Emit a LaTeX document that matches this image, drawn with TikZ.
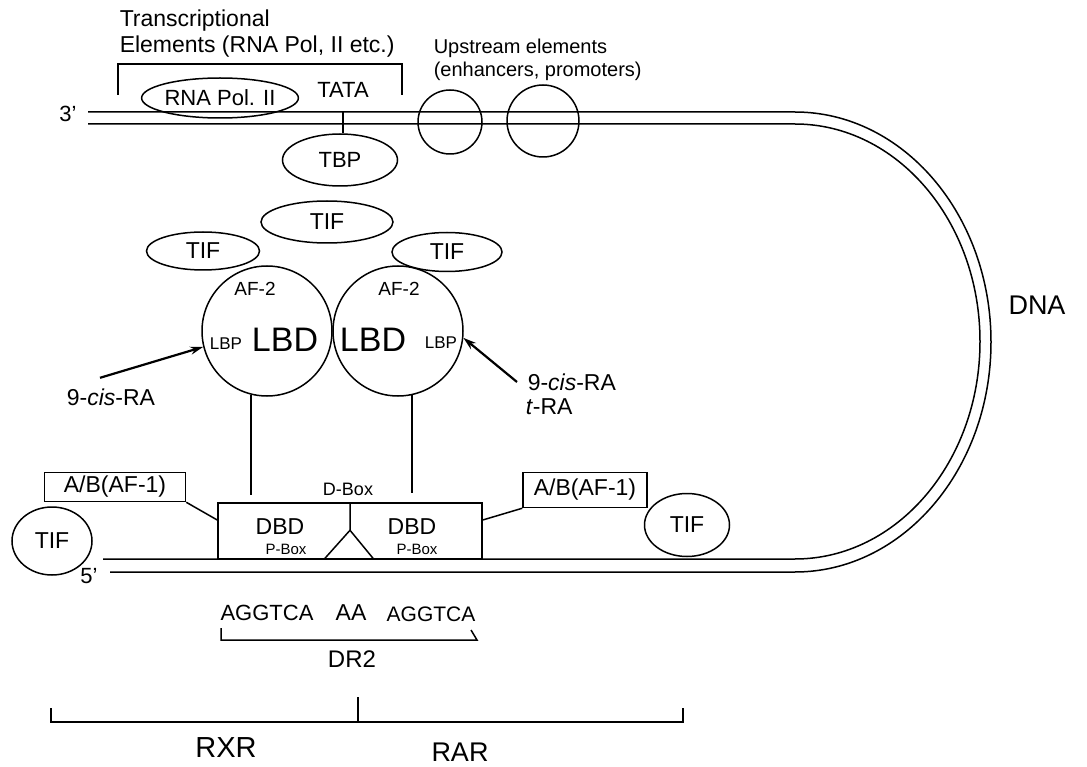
\documentclass[tikz,border=0pt]{standalone}
\usepackage{fontspec}
\setmainfont{Liberation Sans}
\usetikzlibrary{shapes.geometric,arrows.meta}
\begin{document}
\begin{tikzpicture}[>={Stealth[length=13pt,width=8pt]},x=1pt,y=-1pt,line width=1.5pt,
  txt/.style={font=\fontsize{#1}{#1}\selectfont,inner sep=0pt},
  txt/.default=22,
  oval/.style={draw,ellipse,inner sep=0pt},
  ball/.style={draw,circle,inner sep=0pt},
  boxed/.style={draw,rectangle,inner sep=0pt}]
\useasboundingbox (0,0) rectangle (1087,767);
% promoter region
\node[txt=23,anchor=west] (trtop) at (119,21) {Transcriptional};
\node[txt=23,anchor=west] (trbot) at (119,47) {Elements (RNA Pol, II etc.)};
\draw (118,95) -- (118,64) -- (402,64) -- (402,95);
\node[oval,txt,minimum width=150,minimum height=40] (rnapol) at (220,98) {RNA Pol. II};
\node[txt] (tata) at (343,90) {TATA};
\node[txt=20,anchor=west] (uptop) at (433,48) {Upstream elements};
\node[txt=20,anchor=west] (upbot) at (433,71) {(enhancers, promoters)};
\node[txt] (end3) at (68,114) {3'};
% DNA
\draw (88,112) -- (795,112) arc[start angle=-90,end angle=90,x radius=196,y radius=230] -- (110,572);
\draw (88,124) -- (795,124) arc[start angle=-90,end angle=90,x radius=185,y radius=217.5] -- (103,559);
\node[txt=27] (dna) at (1037,305) {DNA};
\node[ball,minimum size=64] (ueA) at (450,122) {};
\node[ball,minimum size=72] (ueB) at (543,121) {};
\node[oval,txt,minimum width=115,minimum height=52] (tbp) at (340,160) {TBP};
\coordinate (tatapin) at (343,112);
\draw (tatapin) -- (tatapin |- tbp.north);
\node[oval,txt=23,minimum width=132,minimum height=42] (tifC) at (327,222) {TIF};
\node[oval,txt=23,minimum width=113,minimum height=38] (tifA) at (203,251) {TIF};
\node[oval,txt=23,minimum width=110,minimum height=39] (tifB) at (447,252) {TIF};
% ligand binding domains
\node[ball,minimum size=130] (lbdL) at (267,331) {};
\node[ball,minimum size=130] (lbdR) at (398,331) {};
\node[txt=19] (af2L) at (255,289) {AF-2};
\node[txt=19] (af2R) at (399,289) {AF-2};
\node[txt=34] (lbdtxtL) at (285,340) {LBD};
\node[txt=34] (lbdtxtR) at (373,340) {LBD};
\node[txt=17] (lbpL) at (226,344) {LBP};
\node[txt=17] (lbpR) at (441,343) {LBP};
\node[txt=23] (ligL) at (111,397) {9-\textit{cis}-RA};
\node[txt=23,anchor=west] (ligR) at (527,382) {9-\textit{cis}-RA};
\node[txt=23,anchor=west] (ligT) at (525,407) {\textit{t}-RA};
\draw[->,line width=2.2pt] ([xshift=-11pt,yshift=10pt]ligL.north) -- (lbdL.194);
\draw[->,line width=2.2pt] ([xshift=-10pt]ligR.west) -- (lbdR.-6);
% DNA binding domains
\node[boxed,minimum width=264,minimum height=56] (dbd) at (350,531) {};
\draw (dbd.north) -- ++(0,28) coordinate (vtip) -- ++(-25,28);
\draw (vtip) -- ++(23,28);
\draw[shorten >=7pt] ([xshift=-0.3pt]lbdL.-104) -- ([xshift=-0.3pt]lbdL.-104 |- dbd.north);
\draw[shorten >=9pt] ([xshift=0.5pt]lbdR.-78) -- ([xshift=0.5pt]lbdR.-78 |- dbd.north);
\node[txt=23] (dbdtxtL) at (280,527) {DBD};
\node[txt=15] (pboxL) at (286,549) {P-Box};
\node[txt=23] (dbdtxtR) at (412,527) {DBD};
\node[txt=15] (pboxR) at (417,549) {P-Box};
\node[txt=18] (dbox) at (348,489) {D-Box};
\node[boxed,txt=23,minimum width=141,minimum height=29] (abL) at (115,487) {A/B(AF-1)};
\node[boxed,txt=23,minimum width=124,minimum height=35] (abR) at (585,490) {A/B(AF-1)};
\draw (abL.south east) -- ([yshift=11pt]dbd.west);
\draw (abR.south west) -- ([yshift=11pt]dbd.east);
\node[oval,txt=23,minimum width=80,minimum height=68] (tifD) at (52,541) {TIF};
\node[oval,txt=23,minimum width=85,minimum height=63] (tifE) at (687,525) {TIF};
\node[txt] (end5) at (89,576) {5'};
% response element
\node[txt=22] (seqA) at (267,613) {AGGTCA};
\node[txt=23] (seqAA) at (351,613) {AA};
\node[txt=21] (seqB) at (431,614) {AGGTCA};
\draw (221,628) -- (221,640) -- (477,640) -- (471,630);
\node[txt=24] (dr2) at (352,659) {DR2};
\draw (51,708) -- (51,722) -- (683,722) -- (683,708);
\draw (358,722) -- (358,697);
\node[txt=29] (rxr) at (226,748) {RXR};
\node[txt=27] (rar) at (460,752) {RAR};
\end{tikzpicture}
\end{document}
